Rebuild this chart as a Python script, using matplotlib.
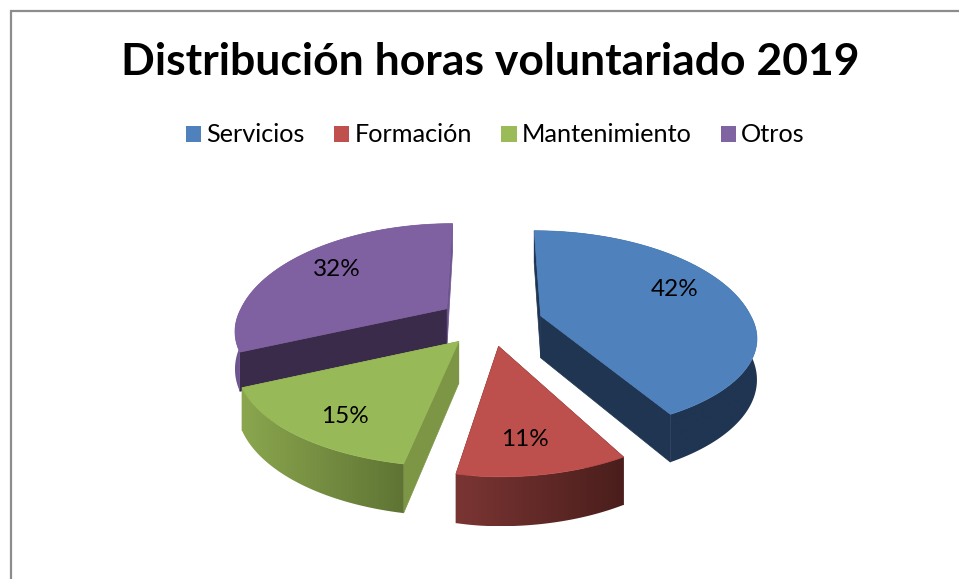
# -*- coding: utf-8 -*-
"""Distribucion de horas de voluntariado 2019, exploded 3D pie."""

import numpy as np
import matplotlib
matplotlib.use("Agg")
import matplotlib.pyplot as plt
from matplotlib.colors import to_rgb
from matplotlib.patches import Patch, Polygon

plt.rcParams["font.family"] = ["Lato", "DejaVu Sans"]

title = "Distribución horas voluntariado 2019"
categories = ["Servicios", "Formación", "Mantenimiento", "Otros"]
values = [42, 11, 15, 32]

top_colors = ["#4f81bd", "#bd4f4c", "#98b957", "#7f60a0"]
legend_colors = ["#4f81bd", "#c0504d", "#9bbb59", "#8064a2"]
rim_left = ["#1f3552", "#7a3533", "#8aa64e", "#6e5590"]
rim_right = ["#1f3552", "#4a1e1c", "#5f7434", "#6e5590"]
cut_start = ["#1f3552", "#5a2523", "#7d9646", "#3b2b4a"]
cut_end = ["#1f3552", "#5a2523", "#7d9646", "#6e5590"]

# layout tweaks per slice
front_scale = [0.89, 1.0, 0.96, 0.90]
left_scale = [1.0, 0.88, 1.03, 0.98]
depth_scale = [0.93, 0.93, 0.93, 0.85]
label_radius = [0.62, 0.72, 0.80, 0.60]
label_dx = [13, -2, 11, -14]
label_dy = [-11, 7, 3, -8]

# projection of the pie plane, in pixels
CX, CY = 490.5, 322
RX, RY = 210, 103
PERSPECTIVE = 0.21
LEAN = 0.13
EXPLODE = 0.24
DEPTH = 42


def rim_point(idx, apex, theta, r=1.0):
    """Screen position of a point on a slice with the given apex."""
    u = r * np.sin(theta)
    v = -r * np.cos(theta)
    p = 1.0 / (1.0 - PERSPECTIVE * v)
    x = apex[0] + RX * np.where(u < 0, left_scale[idx], 1.0) * u * p + (apex[0] - CX) * LEAN * v
    y = apex[1] + RY * v * p * np.where(v > 0, front_scale[idx], 1.0)
    return x, y, DEPTH * p * depth_scale[idx]


def slice_apex(mid):
    return CX + 216 * EXPLODE * np.sin(mid), CY - RY * EXPLODE * np.cos(mid)


def draw_cut(ax, idx, apex, theta, color, z):
    x, y, d = rim_point(idx, apex, theta)
    quad = [(apex[0], apex[1]), (x, y), (x, y + d), (apex[0], apex[1] + DEPTH)]
    ax.add_patch(Polygon(quad, closed=True, facecolor=color, edgecolor=color, lw=0.5, zorder=z))


def draw_slice(ax, idx, start, end, z):
    mid = (start + end) / 2
    apex = slice_apex(mid)
    thetas = np.linspace(start, end, 120)

    draw_cut(ax, idx, apex, end, cut_end[idx], z)
    draw_cut(ax, idx, apex, start, cut_start[idx], z + 1)

    # outer wall, shaded from left to right
    x, y, d = rim_point(idx, apex, thetas)
    y_low = y + d
    wall = list(zip(x, y)) + list(zip(x[::-1], y_low[::-1]))
    shade = np.linspace(0, 1, 64)[:, None]
    c0, c1 = np.array(to_rgb(rim_left[idx])), np.array(to_rgb(rim_right[idx]))
    grad = (c0 + (c1 - c0) * shade)[None, :, :]
    im = ax.imshow(grad, extent=[x.min(), x.max(), y_low.max(), y.min()], aspect="auto",
                   interpolation="bilinear", zorder=z + 2)
    im.set_clip_path(Polygon(wall, closed=True, transform=ax.transData))

    outline = [apex] + list(zip(x, y))
    ax.add_patch(Polygon(outline, closed=True, facecolor=top_colors[idx],
                         edgecolor=top_colors[idx], lw=0.5, zorder=z + 3))


def main():
    fig = plt.figure(figsize=(9.59, 5.79), dpi=100)
    ax = fig.add_axes([0, 0, 1, 1])
    ax.axis("off")

    # chart frame, cut off by the screenshot on the right and bottom
    ax.plot([10.5, 10.5, 959], [579, 11, 11], color="#8c8c8c", lw=1.6, solid_joinstyle="miter")

    bounds = np.concatenate([[0], np.cumsum(values)]) / np.sum(values) * 2 * np.pi

    for order, idx in enumerate([3, 0, 2, 1]):
        draw_slice(ax, idx, bounds[idx], bounds[idx + 1], 10 * (order + 1))

    ax.set_xlim(0, 959)
    ax.set_ylim(579, 0)

    for idx, val in enumerate(values):
        mid = (bounds[idx] + bounds[idx + 1]) / 2
        x, y, _ = rim_point(idx, slice_apex(mid), mid, label_radius[idx])
        ax.text(x + label_dx[idx], y + label_dy[idx], f"{val}%", ha="center", va="center",
                fontsize=17.5, color="black", zorder=100)

    ax.text(490, 62, title, ha="center", va="center", fontsize=32, fontweight="bold", color="black")

    handles = [Patch(facecolor=c, edgecolor="none", label=n) for c, n in zip(legend_colors, categories)]
    ax.legend(handles=handles, ncol=4, loc="center", bbox_to_anchor=(495.5 / 959, 1 - 135 / 579),
              frameon=False, fontsize=18.2, handlelength=0.6, handleheight=0.6,
              handletextpad=0.2, columnspacing=1.17)

    fig.savefig("out.png", dpi=100)
    plt.close(fig)


if __name__ == "__main__":
    main()
